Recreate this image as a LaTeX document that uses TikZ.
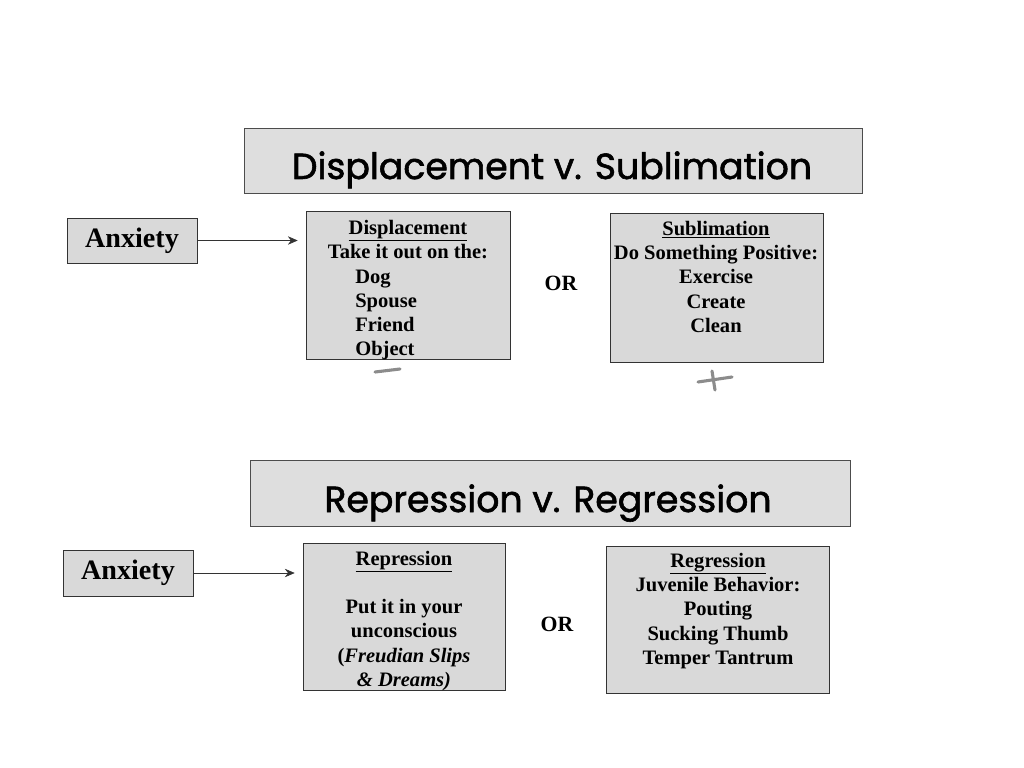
\documentclass[tikz,border=0pt]{standalone}
\usepackage{fontspec}
\setmainfont{Liberation Serif}
\newfontfamily\comicfont[FakeBold=1.6]{Poppins}
\usetikzlibrary{arrows.meta}

\begin{document}
\begin{tikzpicture}[x=0.025cm,y=-0.025cm,
  title/.style={draw=black!70,fill=black!13,inner sep=0},
  titletext/.style={inner sep=0,anchor=base,font=\comicfont\fontsize{25.8}{30}\selectfont},
  box/.style={draw=black!80,fill=black!15,inner sep=0},
  txt/.style={inner sep=0,anchor=base,font=\bfseries\fontsize{14.6}{17.4}\selectfont},
  orword/.style={inner sep=0,anchor=base,font=\bfseries\fontsize{15.5}{18}\selectfont},
  anx/.style={inner sep=0,anchor=base,font=\bfseries\fontsize{20}{24}\selectfont},
  pencil/.style={draw=black!45,line width=2.2pt,line cap=round}]
\useasboundingbox (0,0) rectangle (1024,768);
\fill[white] (0,0) rectangle (1024,768);

% Displacement v. Sublimation
\node[title,minimum width=15.45cm,minimum height=1.625cm] (title1) at (553,160.5) {};
\node[titletext] (title1text) at (552,179) {Displacement v. Sublimation};
\node[box,minimum width=3.25cm,minimum height=1.125cm] (anx1) at (132,240.5) {};
\node[anx] (anx1text) at (132,247) {Anxiety};
\node[box,minimum width=5.1cm,minimum height=3.7cm] (disp) at (408,285) {};
\node[box,minimum width=5.325cm,minimum height=3.725cm] (subl) at (716.5,287.5) {};
\node[orword] (or1) at (561,290) {OR};
\draw[-{Stealth[length=7pt,width=6pt]},black!80,shorten >=0.2cm] (anx1.east) -- (anx1.east -| disp.west);

\path
(408,234) node [txt] (dhead) {\underline{Displacement}}
(408,258) node [txt] (dline) {Take it out on the:}
(355,283) node [txt,anchor=base west] (dog) {Dog}
(355,307) node [txt,anchor=base west] (spouse) {Spouse}
(355,331) node [txt,anchor=base west] (friend) {Friend}
(355,355) node [txt,anchor=base west] (object) {Object}
(716,235) node [txt] (shead) {\underline{Sublimation}}
(716,259) node [txt] (sline) {Do Something Positive:}
(716,283) node [txt] (exercise) {Exercise}
(716,308) node [txt] (create) {Create}
(716,332) node [txt] (clean) {Clean}
;

% pencil marks
\draw[pencil] (375,372) -- (400,369);
\draw[pencil] (698,382) -- (732,377);
\draw[pencil] (712,371) -- (715,390);

% Repression v. Regression
\node[title,minimum width=15cm,minimum height=1.65cm] (title2) at (550,493) {};
\node[titletext] (title2text) at (548,512) {Repression v. Regression};
\node[box,minimum width=3.25cm,minimum height=1.15cm] (anx2) at (128,573) {};
\node[anx] (anx2text) at (128,579) {Anxiety};
\node[box,minimum width=5.05cm,minimum height=3.675cm] (repr) at (404,616.5) {};
\node[box,minimum width=5.575cm,minimum height=3.675cm] (regr) at (717.5,619.5) {};
\node[orword] (or2) at (557,631) {OR};
\draw[-{Stealth[length=7pt,width=6pt]},black!80,shorten >=0.2cm] (anx2.east) -- (anx2.east -| repr.west);

\path
(404,565) node [txt] (rhead) {\underline{Repression}}
(404,613) node [txt] (rline1) {Put it in your}
(404,637) node [txt] (rline2) {unconscious}
(404,662) node [txt] (rline3) {(\textit{Freudian Slips}}
(404,686) node [txt] (rline4) {\textit{\& Dreams)}}
(718,567) node [txt] (ghead) {\underline{Regression}}
(718,591) node [txt] (gline) {Juvenile Behavior:}
(718,615) node [txt] (pouting) {Pouting}
(718,640) node [txt] (thumb) {Sucking Thumb}
(718,664) node [txt] (tantrum) {Temper Tantrum}
;
\end{tikzpicture}
\end{document}
